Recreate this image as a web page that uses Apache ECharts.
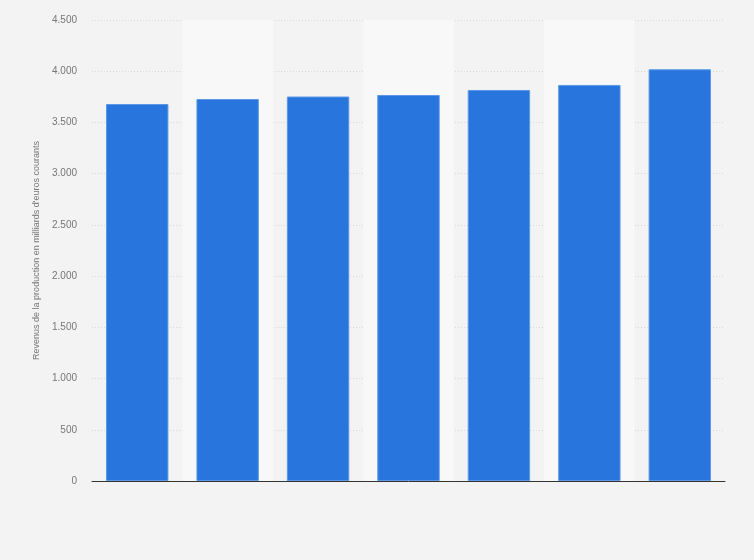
<!DOCTYPE html>
<html>
<head>
<meta charset="utf-8">
<script src="https://cdn.jsdelivr.net/npm/echarts@6/dist/echarts.min.js"></script>
<style>
  html, body { margin: 0; padding: 0; background: #f3f3f3; }
  #chart { width: 754px; height: 560px; }
</style>
</head>
<body>
<div id="chart"></div>
<script>
// categories are not labelled in the picture
const categories = ['1', '2', '3', '4', '5', '6', '7']
const revenus = [3680, 3729, 3753, 3768, 3817, 3866, 4019]
const yTitle = "Revenus de la production en milliards d'euros courants"

const fmt = v => String(v).replace(/\B(?=(\d{3})+(?!\d))/g, '.')

var mychart = echarts.init(document.getElementById('chart'))

let option = {
    backgroundColor: '#f3f3f3',
    animation: false,
    grid: { left: 92, right: 29, top: 20, bottom: 79 },
    xAxis: {
        type: 'category',
        data: categories,
        axisTick: { show: false },
        axisLabel: { show: false },
        axisLine: { lineStyle: { color: '#333', width: 1 } },
        splitArea: { show: true, areaStyle: { color: ['rgba(0,0,0,0)', '#f8f8f8'] } }
    },
    yAxis: {
        type: 'value',
        min: 0,
        max: 4500,
        interval: 500,
        name: yTitle,
        nameLocation: 'middle',
        nameGap: 48,
        nameTextStyle: { color: '#777', fontSize: 9, fontFamily: 'Liberation Sans, Arial' },
        axisLine: { show: false },
        axisTick: { show: false },
        axisLabel: {
            color: '#777',
            fontSize: 10,
            fontFamily: 'Liberation Sans, Arial',
            margin: 15,
            formatter: fmt
        },
        splitLine: { lineStyle: { color: '#d8d8d8', type: [1, 2] } }
    },
    series: [
        {
            type: 'bar',
            data: revenus,
            barWidth: '69%',
            itemStyle: { color: '#2876dd', borderColor: '#5c98e6', borderWidth: 1 }
        }
    ]
}
mychart.setOption(option)
</script>
</body>
</html>
